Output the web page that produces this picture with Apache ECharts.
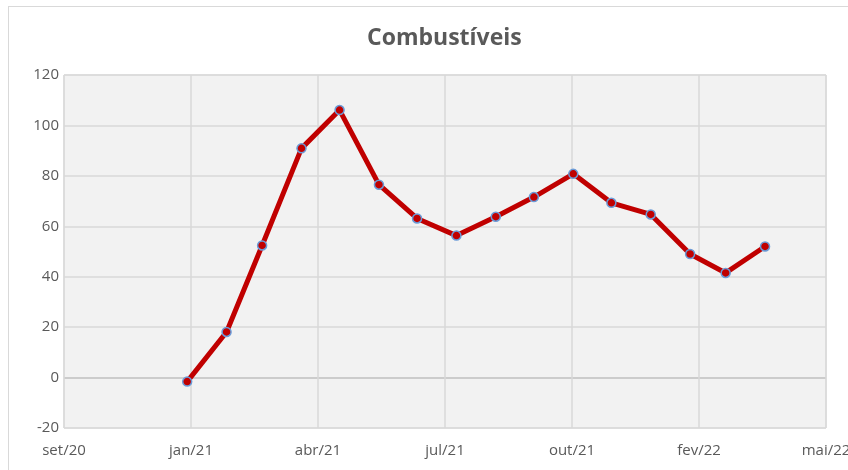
<!DOCTYPE html>
<html>
<head>
<meta charset="utf-8">
<script src="https://cdn.jsdelivr.net/npm/echarts@6/dist/echarts.min.js"></script>
<style>
  html, body { margin: 0; padding: 0; background: #fff; }
  #frame { position: absolute; left: 8px; top: 6px; width: 860px; height: 480px;
           border-left: 1px solid #D9D9D9; border-top: 1px solid #D9D9D9; }
  #chart { position: absolute; left: 0; top: 0; width: 848px; height: 470px; }
</style>
</head>
<body>
<div id="frame"></div>
<div id="chart"></div>
<script>
// monthly points (first day of month)
const months = ['2021-01', '2021-02', '2021-03', '2021-04', '2021-05', '2021-06', '2021-07', '2021-08',
                '2021-09', '2021-10', '2021-11', '2021-12', '2022-01', '2022-02', '2022-03', '2022-04'];
const values = [-1.6, 18.1, 52.4, 90.9, 106.1, 76.5, 63.1, 56.3, 63.8, 71.6, 80.8, 69.3, 64.7, 49.0, 41.5, 52.0];
const monthNames = ['jan', 'fev', 'mar', 'abr', 'mai', 'jun', 'jul', 'ago', 'set', 'out', 'nov', 'dez'];

// x axis uses Excel date serials, like the original sheet (44100 = 26/09/2020)
const xMin = 44100, xMax = 44700, xStep = 100;

function toSerial(ym) {
    const [y, m] = ym.split('-').map(Number);
    return Date.UTC(y, m - 1, 1) / 86400000 + 25569;
}
function fmtSerial(s) {
    const d = new Date((s - 25569) * 86400000);
    return monthNames[d.getUTCMonth()] + '/' + String(d.getUTCFullYear()).slice(2);
}

const textColor = '#595959';
const font = 'Open Sans';

const chart = echarts.init(document.getElementById('chart'));
chart.setOption({
    animation: false,
    title: {
        text: 'Combustíveis',
        left: 362,
        top: 22,
        textStyle: { color: textColor, fontFamily: font, fontSize: 23, fontWeight: 'bold' },
    },
    grid: {
        left: 64, right: 22, top: 75, bottom: 42,
        outerBoundsMode: 'none',
        containLabel: false,
        show: true, backgroundColor: '#F2F2F2', borderColor: '#D9D9D9', borderWidth: 1,
    },
    xAxis: {
        type: 'value',
        min: xMin, max: xMax, interval: xStep,
        axisLine: { show: false },
        axisTick: { show: false },
        axisLabel: {
            color: textColor, fontFamily: font, fontSize: 15, margin: 15,
            formatter: fmtSerial,
        },
        splitLine: { show: true, lineStyle: { color: '#D9D9D9', width: 1.5 } },
    },
    yAxis: {
        type: 'value',
        min: -20, max: 120, interval: 20,
        axisLine: { show: false },
        axisTick: { show: false },
        axisLabel: { color: textColor, fontFamily: font, fontSize: 15, margin: 5 },
        splitLine: {
            show: true,
            lineStyle: { color: ['#D9D9D9', '#BFBFBF', '#D9D9D9', '#D9D9D9', '#D9D9D9', '#D9D9D9', '#D9D9D9', '#D9D9D9'], width: 1.5 },
        },
    },
    series: [{
        type: 'line',
        data: months.map((m, i) => [toSerial(m), values[i]]),
        lineStyle: { color: '#C00000', width: 5 },
        symbol: 'circle',
        symbolSize: 9,
        itemStyle: { color: '#C00000', borderColor: '#6A9BD8', borderWidth: 1.5 },
        z: 3,
    }],
});
</script>
</body>
</html>
